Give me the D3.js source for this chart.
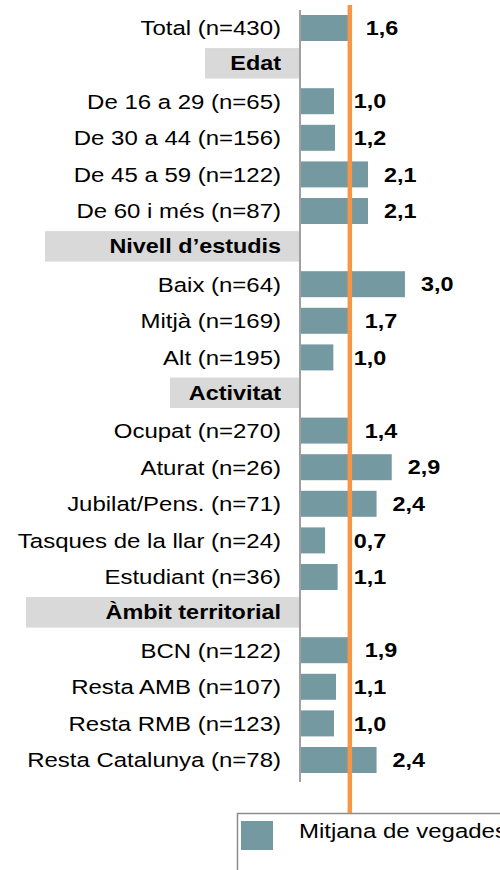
<!DOCTYPE html>
<html>
<head>
<meta charset="utf-8">
<script src="https://cdn.jsdelivr.net/npm/d3@7"></script>
<style>
    html, body { margin: 0; padding: 0; background: #fff; overflow: hidden; }
    svg { display: block; font-family: "Liberation Sans", Arial, sans-serif; }
</style>
</head>
<body>
<svg id="chart" width="500" height="870"></svg>
<script>
// rows top to bottom; headers have no value
var rowLabels = [
    "Total (n=430)",
    "Edat",
    "De 16 a 29 (n=65)", "De 30 a 44 (n=156)", "De 45 a 59 (n=122)", "De 60 i més (n=87)",
    "Nivell d’estudis",
    "Baix (n=64)", "Mitjà (n=169)", "Alt (n=195)",
    "Activitat",
    "Ocupat (n=270)", "Aturat (n=26)", "Jubilat/Pens. (n=71)", "Tasques de la llar (n=24)", "Estudiant (n=36)",
    "Àmbit territorial",
    "BCN (n=122)", "Resta AMB (n=107)", "Resta RMB (n=123)", "Resta Catalunya (n=78)"
];
var rowIsHeader = [
    false, true, false, false, false, false, true, false, false, false, true,
    false, false, false, false, false, true, false, false, false, false
];
// bar lengths as drawn in the picture
var barValues = [
    1.48, null,
    1.00, 1.03, 2.03, 2.03, null,
    3.15, 1.45, 0.98, null,
    1.45, 2.75, 2.29, 0.73, 1.11, null,
    1.45, 1.06, 1.00, 2.29
];
// printed data labels
var valueLabels = [
    "1,6", "",
    "1,0", "1,2", "2,1", "2,1", "",
    "3,0", "1,7", "1,0", "",
    "1,4", "2,9", "2,4", "0,7", "1,1", "",
    "1,9", "1,1", "1,0", "2,4"
];
var meanValue = 1.48;
var legendLabel = "Mitjana de vegades";

(function () {
    var svg = d3.select("#chart");
    var stretch = 1.17;           // text in the picture is a bit wide
    var barColor = "#7599a1";
    var headerLeft = { "Edat": 205, "Nivell d’estudis": 45, "Activitat": 170, "Àmbit territorial": 26 };

    var x = d3.scaleLinear().domain([0, 5]).range([301, 466]);
    var y = d3.scaleBand().domain(d3.range(rowLabels.length)).range([9.7, 778.3]).padding(0);
    var step = y.bandwidth();
    var barH = step * 0.71;

    var rows = rowLabels.map(function (d, i) {
        return { label: d, header: rowIsHeader[i], value: barValues[i], text: valueLabels[i], i: i };
    });

    // header bands
    svg.selectAll("rect.head")
        .data(rows.filter(function (d) { return d.header; }))
        .enter()
        .append("rect")
        .attr("class", "head")
        .attr("x", function (d) { return headerLeft[d.label]; })
        .attr("y", function (d) { return y(d.i) + step / 2 - 16.5; })
        .attr("width", function (d) { return 300 - headerLeft[d.label]; })
        .attr("height", 30.5)
        .attr("fill", "#d9d9d9");

    // bars
    svg.selectAll("rect.bar")
        .data(rows.filter(function (d) { return !d.header; }))
        .enter()
        .append("rect")
        .attr("class", "bar")
        .attr("x", x(0))
        .attr("y", function (d) { return y(d.i) + (step - barH) / 2; })
        .attr("width", function (d) { return x(d.value) - x(0); })
        .attr("height", barH)
        .attr("fill", barColor);

    // axis line
    svg.append("line")
        .attr("x1", 300).attr("x2", 300)
        .attr("y1", 10).attr("y2", 782)
        .attr("stroke", "#a0a0a0")
        .attr("stroke-width", 2);

    // category labels
    svg.selectAll("g.cat")
        .data(rows)
        .enter()
        .append("g")
        .attr("class", "cat")
        .attr("transform", function (d) {
            var cy = y(d.i) + step / 2 - (d.header ? 1.5 : 0);
            return "translate(281," + cy + ") scale(" + stretch + ",1)";
        })
        .append("text")
        .attr("text-anchor", "end")
        .attr("dy", "0.36em")
        .attr("font-size", function (d) { return d.header ? "20px" : "20.5px"; })
        .attr("font-weight", function (d) { return d.header ? "bold" : "normal"; })
        .attr("fill", "#000")
        .text(function (d) { return d.label; });

    // value labels, kept clear of the mean line
    svg.selectAll("g.val")
        .data(rows.filter(function (d) { return !d.header; }))
        .enter()
        .append("g")
        .attr("class", "val")
        .attr("transform", function (d) {
            var lx = Math.max(x(d.value) + 16, x(meanValue) + 4);
            return "translate(" + lx + "," + (y(d.i) + step / 2) + ") scale(" + stretch + ",1)";
        })
        .append("text")
        .attr("dy", "0.36em")
        .attr("font-size", "20px")
        .attr("font-weight", "bold")
        .attr("fill", "#000")
        .text(function (d) { return d.text; });

    // legend
    svg.append("rect")
        .attr("x", 237.5).attr("y", 813.5)
        .attr("width", 300).attr("height", 100)
        .attr("fill", "#fff")
        .attr("stroke", "#8c8c8c")
        .attr("stroke-width", 1.5);

    svg.append("rect")
        .attr("x", 241).attr("y", 821)
        .attr("width", 32).attr("height", 29)
        .attr("fill", barColor);

    svg.append("g")
        .attr("transform", "translate(299,838) scale(" + stretch + ",1)")
        .append("text")
        .attr("font-size", "20.5px")
        .attr("fill", "#000")
        .text(legendLabel);

    // mean line
    svg.append("line")
        .attr("x1", x(meanValue)).attr("x2", x(meanValue))
        .attr("y1", 5).attr("y2", 813)
        .attr("stroke", "#f79646")
        .attr("stroke-width", 4.5);
})();
</script>
</body>
</html>
